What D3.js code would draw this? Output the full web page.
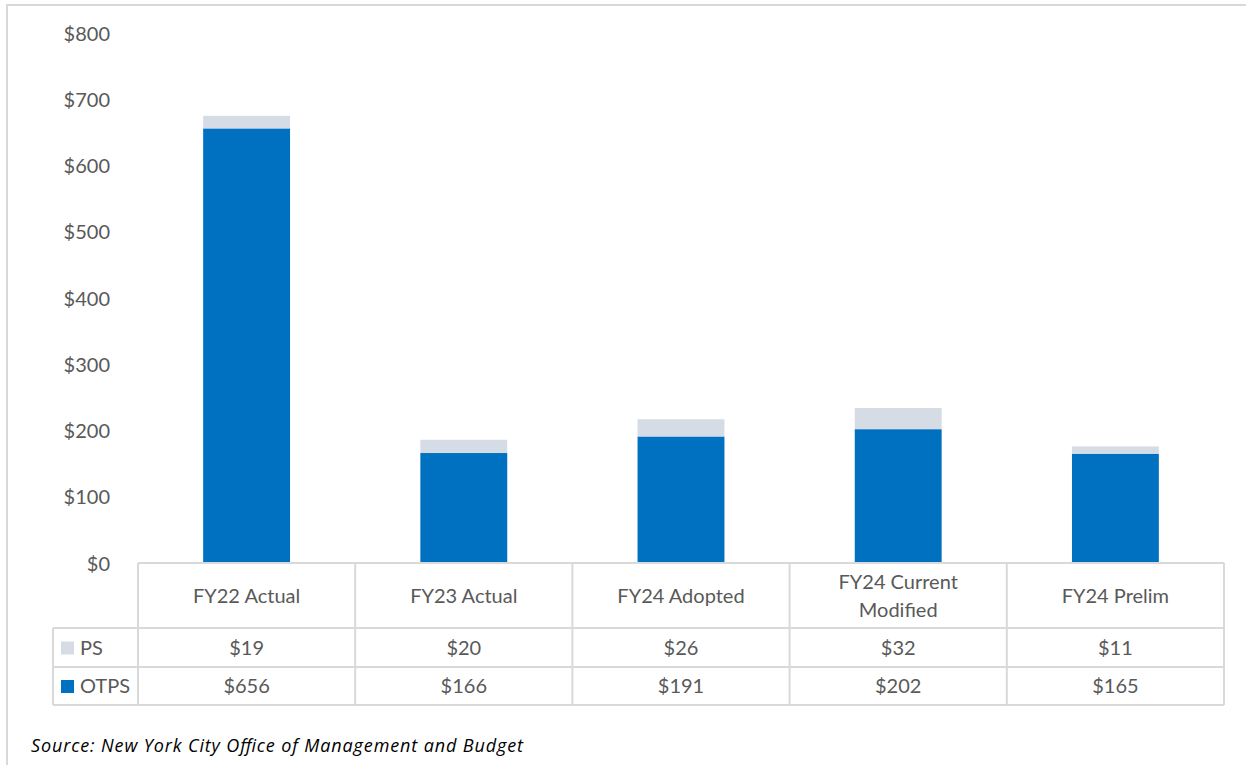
<!DOCTYPE html>
<html>
<head>
<meta charset="utf-8">
<script src="https://cdn.jsdelivr.net/npm/d3@7/dist/d3.min.js"></script>
<style>
  html, body { margin: 0; padding: 0; background: #fff; }
  svg { display: block; font-family: Lato, "Open Sans", sans-serif; }
</style>
</head>
<body>
<svg id="chart" width="1246" height="765"></svg>
<script>
// ---- data ----
const categories = ["FY22 Actual", "FY23 Actual", "FY24 Adopted", "FY24 Current Modified", "FY24 Prelim"];
const seriesNames = ["OTPS", "PS"];
const otpsValues = [656, 166, 191, 202, 165];
const psValues = [19, 20, 26, 32, 11];
const yTickValues = [0, 100, 200, 300, 400, 500, 600, 700, 800];
const sourceText = "Source: New York City Office of Management and Budget";

// ---- layout ----
const svg = d3.select("#chart");
const W = 1246, H = 765;
const plot = { left: 138, right: 1224, top: 33, bottom: 563 };
const rows = { header: 628, ps: 667, otps: 705 };
const legendLeft = 53;
const grid = "#d9d9d9";
const textColor = "#595959";
const colors = { OTPS: "#0070C0", PS: "#D6DCE5" };

// outer frame
svg.append("rect").attr("x", 7).attr("y", 5).attr("width", W + 20).attr("height", H + 20)
  .attr("fill", "none").attr("stroke", grid).attr("stroke-width", 2);

const x = d3.scaleBand().domain(categories).range([plot.left, plot.right]).paddingInner(0).paddingOuter(0);
const y = d3.scaleLinear().domain([0, 800]).range([plot.bottom, plot.top]);

// y axis labels
const yAxis = d3.axisLeft(y).tickValues(yTickValues).tickFormat(d => "$" + d).tickSize(0).tickPadding(0);
const yG = svg.append("g").attr("transform", "translate(110,0)").call(yAxis);
yG.select(".domain").remove();
yG.selectAll("text").attr("font-size", 20).attr("fill", textColor)
  .attr("font-family", "Lato, 'Open Sans', sans-serif").attr("dy", "0.35em");

// stacked bars
const table = categories.map((c, i) => ({ cat: c, OTPS: otpsValues[i], PS: psValues[i] }));
const stacked = d3.stack().keys(seriesNames)(table);
const barW = x.bandwidth() * 0.4;
svg.append("g").selectAll("g").data(stacked).join("g")
  .attr("fill", s => colors[s.key])
  .selectAll("rect").data(s => s).join("rect")
  .attr("x", d => x(d.data.cat) + (x.bandwidth() - barW) / 2)
  .attr("width", barW)
  .attr("y", d => y(d[1]))
  .attr("height", d => y(d[0]) - y(d[1]));

// data table grid
const g = svg.append("g").attr("stroke", grid).attr("stroke-width", 2).attr("fill", "none");
g.append("line").attr("x1", plot.left).attr("x2", plot.right).attr("y1", plot.bottom).attr("y2", plot.bottom);
[rows.header, rows.ps, rows.otps].forEach(yy => {
  g.append("line").attr("x1", legendLeft).attr("x2", plot.right).attr("y1", yy).attr("y2", yy);
});
categories.forEach(c => {
  g.append("line").attr("x1", x(c)).attr("x2", x(c)).attr("y1", plot.bottom).attr("y2", rows.otps);
});
g.append("line").attr("x1", plot.right).attr("x2", plot.right).attr("y1", plot.bottom).attr("y2", rows.otps);
g.append("line").attr("x1", legendLeft).attr("x2", legendLeft).attr("y1", rows.header).attr("y2", rows.otps);

// header category labels (wrap if needed)
const hdr = svg.append("g").attr("font-size", 20).attr("fill", textColor).attr("text-anchor", "middle");
categories.forEach(c => {
  const cx = x(c) + x.bandwidth() / 2;
  const t = hdr.append("text").attr("x", cx).text(c);
  const maxW = x.bandwidth() - 40;
  if (t.node().getComputedTextLength() > maxW) {
    const words = c.split(" ");
    const l1 = words.slice(0, -1).join(" "), l2 = words[words.length - 1];
    t.text(null);
    t.append("tspan").attr("x", cx).attr("y", (plot.bottom + rows.header) / 2 - 14).attr("dy", "0.35em").text(l1);
    t.append("tspan").attr("x", cx).attr("y", (plot.bottom + rows.header) / 2 + 14).attr("dy", "0.35em").text(l2);
  } else {
    t.attr("y", (plot.bottom + rows.header) / 2).attr("dy", "0.35em");
  }
});

// value rows
const rowDefs = [
  { key: "PS", vals: psValues, top: rows.header, bottom: rows.ps },
  { key: "OTPS", vals: otpsValues, top: rows.ps, bottom: rows.otps }
];
rowDefs.forEach(r => {
  const cy = (r.top + r.bottom) / 2;
  svg.append("g").selectAll("text").data(r.vals).join("text")
    .attr("x", (d, i) => x(categories[i]) + x.bandwidth() / 2)
    .attr("y", cy).attr("dy", "0.35em")
    .attr("text-anchor", "middle").attr("font-size", 20).attr("fill", textColor)
    .text(d => "$" + d);
  // legend key
  svg.append("rect").attr("x", 61).attr("y", cy - 6).attr("width", 13).attr("height", 13)
    .attr("fill", colors[r.key]);
  svg.append("text").attr("x", 80).attr("y", cy).attr("dy", "0.35em")
    .attr("font-size", 20).attr("fill", textColor).text(r.key);
});

// source
svg.append("text").attr("x", 31).attr("y", 752).attr("font-size", 18)
  .attr("font-family", "'Open Sans', sans-serif")
  .attr("textLength", 492).attr("lengthAdjust", "spacing")
  .attr("font-style", "italic").attr("fill", "#000").text(sourceText);
</script>
</body>
</html>
